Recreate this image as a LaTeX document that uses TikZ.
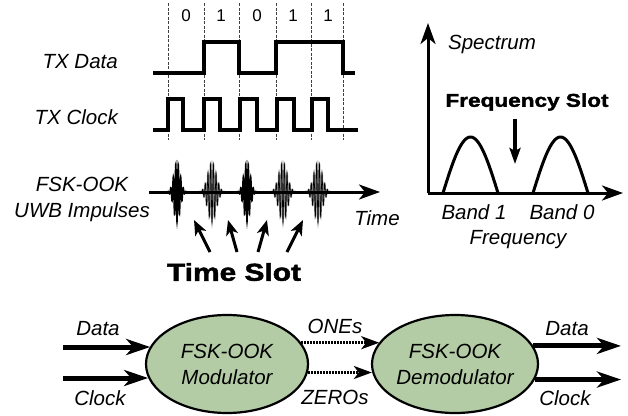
\documentclass[tikz,border=0pt]{standalone}
\usepackage{fontspec}
\setmainfont{Liberation Sans}
\newfontfamily\heavyfont[FakeStretch=1.22,FakeBold=2]{Liberation Sans Bold}
\usetikzlibrary{shapes.geometric,arrows.meta}
\definecolor{ellgreen}{HTML}{B4CCA6}
\begin{document}
\begin{tikzpicture}[x=1pt,y=-1pt,
  lab/.style={font=\fontsize{20.5}{26}\selectfont\itshape, inner sep=0pt, align=center},
  digit/.style={font=\fontsize{17}{20}\selectfont, inner sep=0pt},
  heavylab/.style={font=\heavyfont\fontsize{#1}{#1}\selectfont, inner sep=0pt},
  wave/.style={line width=3.4pt, line join=miter, line cap=butt},
  guide/.style={line width=0.6pt, dash pattern=on 3pt off 1.5pt, black!75},
  bigtip/.style={-{Stealth[length=21pt,width=15pt,inset=6pt]}},
  axisline/.style={line width=3pt, bigtip},
  slotarrow/.style={line width=3pt, -{Stealth[length=15pt,width=12pt,inset=4pt]}},
  thickarrow/.style={line width=5pt, -{Stealth[length=24pt,width=16pt,inset=7pt]}},
  dotarrow/.style={line width=2.6pt, dash pattern=on 1.6pt off 1.4pt, -{Stealth[length=18pt,width=13pt,inset=5pt,sep=0pt]}},
  blob/.style={ellipse, draw, line width=2.2pt, fill=ellgreen, inner sep=0pt,
     minimum width=162pt, minimum height=98pt, font=\fontsize{20.5}{26}\selectfont\itshape, align=center},
  darkpulse/.pic={\draw[line width=1.5pt] plot[domain=-10:10,samples=201] (\x,{30*exp(-(\x/4.5)^2)*cos(360*\x/2.5)});},
  graypulse/.pic={\draw[line width=1.6pt, black!45] plot[domain=-13:13,samples=261] (\x,{30*exp(-(\x/6)^2)*cos(360*\x/2.7)});
                  \draw[line width=0.6pt, black] plot[domain=-13:13,samples=261] (\x,{30*exp(-(\x/6)^2)*cos(360*\x/2.7)});}
]
\useasboundingbox (0,0) rectangle (628,415);

% ---------- timing diagram ----------
\foreach \gx in {168,204,239,276,311,343} \draw[guide] (\gx,3) -- (\gx,140);
\node[digit] (b1) at (186,16) {0};
\node[digit] (b2) at (221,16) {1};
\node[digit] (b3) at (257,16) {0};
\node[digit] (b4) at (293,16) {1};
\node[digit] (b5) at (328,16) {1};

\node[lab, anchor=east] (txd) at (118,62) {TX Data};
\node[lab, anchor=east] (txc) at (118,117) {TX Clock};

\draw[wave] (153,73) -- (204,73) -- (204,42) -- (239,42) -- (239,73) -- (276,73)
  -- (276,42) -- (343,42) -- (343,73) -- (355,73);
\draw[wave] (153,130) -- (168,130) -- (168,99) -- (183,99) -- (183,130) -- (204,130)
  -- (204,99) -- (220,99) -- (220,130) -- (240,130) -- (240,99) -- (257,99) -- (257,130)
  -- (277,130) -- (277,99) -- (294,99) -- (294,130) -- (312,130) -- (312,99) -- (328,99)
  -- (328,130) -- (358,130);

% ---------- impulses ----------
\node[lab] (fsk) at (82,199) {FSK-OOK\\UWB Impulses};
\coordinate (t0) at (149,192);
\coordinate (t1) at (380,192);
\pic at (177,192) {darkpulse};
\pic at (212,192) {graypulse};
\pic at (247,192) {darkpulse};
\pic at (283,192) {graypulse};
\pic at (318,192) {graypulse};
\draw[axisline] (t0) -- (t1);
\node[lab] (time) at (377,218) {Time};

\coordinate (s1a) at (210,252); \coordinate (s1b) at (194,220);
\coordinate (s2a) at (237,252); \coordinate (s2b) at (228,220);
\coordinate (s3a) at (258,252); \coordinate (s3b) at (267,220);
\coordinate (s4a) at (287,252); \coordinate (s4b) at (303,220);
\draw[slotarrow] (s1a) -- (s1b);
\draw[slotarrow] (s2a) -- (s2b);
\draw[slotarrow] (s3a) -- (s3b);
\draw[slotarrow] (s4a) -- (s4b);
\node[heavylab=24.5] (tslot) at (234,272) {Time Slot};

% ---------- spectrum ----------
\coordinate (org) at (428,193);
\coordinate (ytop) at (428,23);
\coordinate (xend) at (623,193);
\draw[line width=3pt] (443,193) plot[domain=0:55,samples=60] ({443+\x},{193-56*sin(180*\x/55)});
\draw[line width=3pt] (533,193) plot[domain=0:55,samples=60] ({533+\x},{193-56*sin(180*\x/55)});
\draw[axisline] (org) -- (ytop);
\draw[axisline] (org) -- (xend);
\node[lab] (spec) at (492,44) {Spectrum};
\node[heavylab=18.5] (fslot) at (527,102) {Frequency Slot};
\coordinate (fa) at (515,119);
\coordinate (fb) at (515,164);
\draw[line width=3.5pt, -{Stealth[length=16pt,width=11pt,inset=3pt]}] (fa) -- (fb);
\node[lab] (band1) at (474,212) {Band 1};
\node[lab] (band0) at (562,212) {Band 0};
\node[lab] (freq) at (518,240) {Frequency};

% ---------- block diagram ----------
\node[blob] (mod) at (227,364) {FSK-OOK\\Modulator};
\node[blob, minimum width=164pt] (demod) at (455,364) {FSK-OOK\\Demodulator};

\coordinate (din) at (63,347);
\coordinate (cin) at (63,378);
\coordinate (dout) at (621,346);
\coordinate (cout) at (621,378);
\draw[thickarrow] (din) -- (din -| mod.167.4);
\draw[thickarrow] (cin) -- (cin -| mod.190.2);
\draw[dotarrow] (mod.16) -- (mod.16 -| demod.164.2);
\draw[dotarrow] (mod.354.3) -- (mod.354.3 -| demod.185.6);
\draw[thickarrow] (demod.13.3) -- (demod.13.3 -| dout);
\draw[thickarrow] (demod.349.9) -- (demod.349.9 -| cout);

\node[lab] (ldin) at (98,329) {Data};
\node[lab] (lcin) at (100,398) {Clock};
\node[lab] (lones) at (335,326) {ONEs};
\node[lab] (lzeros) at (335,397) {ZEROs};
\node[lab] (ldout) at (567,329) {Data};
\node[lab] (lcout) at (565,398) {Clock};
\end{tikzpicture}
\end{document}
